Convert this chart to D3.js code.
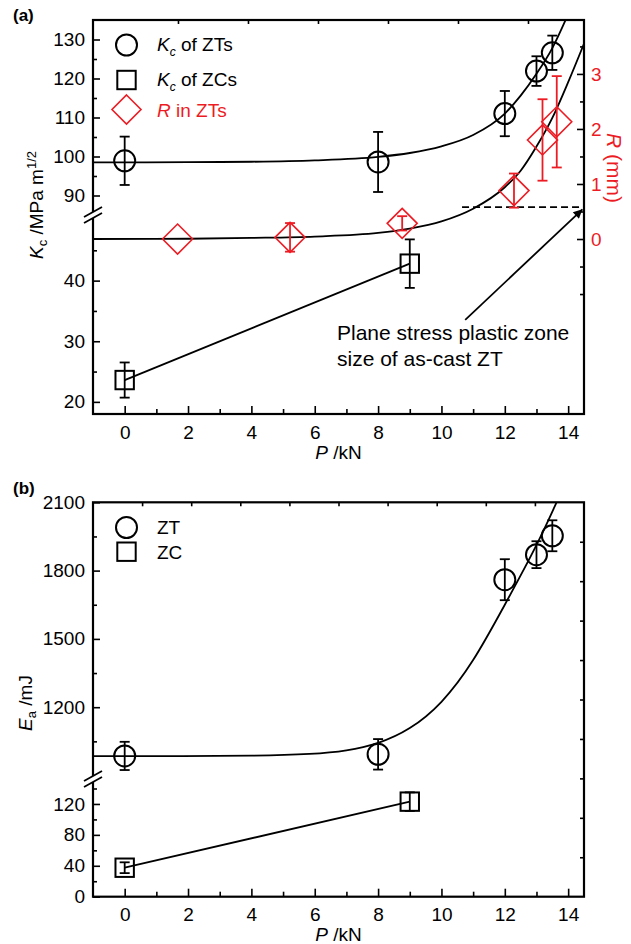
<!DOCTYPE html>
<html>
<head>
<meta charset="utf-8">
<script src="https://cdn.jsdelivr.net/npm/d3@7"></script>
<style>
    body { margin: 0; background: #fff; }
    svg { display: block; font-family: "Liberation Sans", Arial, sans-serif; }
</style>
</head>
<body>
<svg id="chart" width="631" height="944"></svg>
<script>
// red used by Origin for the R series
var RED = "#ed1c24";

// ---- panel (a) data ----
var xMajor = [0, 2, 4, 6, 8, 10, 12, 14];
var xMinor = [1, 3, 5, 7, 9, 11, 13];

var ztP = [0, 8, 12, 13, 13.5];
var ztKc = [98.9, 98.6, 111.0, 121.9, 126.6];
var ztKcErr = [6.2, 7.7, 5.8, 3.8, 4.4];

var zcP = [0, 9];
var zcKc = [23.6, 42.8];
var zcKcErr = [2.9, 4.0];

var rP = [1.67, 5.22, 8.76, 12.29, 13.19, 13.64];
var rMm = [0.0, 0.03, 0.285, 0.88, 1.8, 2.13];
var rErr = [0, 0.26, 0.13, 0.31, 0.74, 0.83];

// fitted curves
var kcFitP = [-1, 2, 4, 6, 8, 9, 10, 11, 12, 12.5, 13, 13.5, 14];
var kcFitV = [98.5, 98.55, 98.65, 99.0, 99.9, 100.9, 102.6, 105.5, 111.0, 115.6, 121.2, 127.8, 136.5];
var rFitP = [-1, 2, 4, 6, 8, 9, 10, 11, 12, 12.5, 13, 13.5, 14, 14.5];
var rFitV = [0.0, 0.005, 0.02, 0.045, 0.11, 0.19, 0.32, 0.55, 0.94, 1.24, 1.68, 2.2, 2.85, 3.55];

var kcUpperMajor = [90, 100, 110, 120, 130];
var kcUpperMinor = [95, 105, 115, 125];
var kcLowerMajor = [20, 30, 40];
var kcLowerMinor = [25, 35, 45];
var rMajor = [0, 1, 2, 3];
var rMinor = [-1, -0.5, 0.5, 1.5, 2.5, 3.5];

var plasticZone = 0.58;           // R of as-cast ZT (mm)
var plasticZoneFrom = 10.65;      // P where the dashed line starts

// ---- panel (b) data ----
var eaZtP = [0, 8, 12, 13, 13.5];
var eaZt = [986, 993, 1760, 1870, 1953];
var eaZtErr = [62, 67, 90, 59, 68];

var eaZcP = [0, 9];
var eaZc = [37.5, 123];
var eaZcErr = [7, 12];

var eaFitP = [-1, 2, 4, 6, 7, 8, 9, 10, 11, 12, 13, 13.7];
var eaFitV = [985, 985.5, 986, 994, 1008, 1038, 1100, 1212, 1395, 1650, 1905, 2120];

var eaUpperMajor = [1200, 1500, 1800, 2100];
var eaUpperMinor = [1050, 1350, 1650, 1950];
var eaLowerMajor = [0, 40, 80, 120];
var eaLowerMinor = [20, 60, 100, 140];

// ---- layout ----
var L = 93, R = 584;
var svg = d3.select("#chart");

var x = d3.scaleLinear().domain([-1, 14.5]).range([L, R]);

function zip(a, b) { return a.map(function (d, i) { return [d, b[i]]; }); }

function ticks(g, axisFn, scale, values, size, fmt) {
    var ax = axisFn(scale).tickValues(values).tickSize(size).tickPadding(8);
    ax.tickFormat(fmt ? fmt : "");
    g.call(ax);
    g.select(".domain").remove();
    g.attr("font-family", null).attr("font-size", 19);
    g.selectAll(".tick line").attr("stroke", "#000").attr("stroke-width", 1.6);
    g.selectAll(".tick text").attr("fill", "#000");
    return g;
}

function circleMarks(g, xs, ys, errs, yScale) {
    var d = xs.map(function (p, i) { return { p: p, v: ys[i], e: errs[i] }; });
    errorBars(g, d, yScale, "#000");
    g.selectAll(null).data(d).enter().append("circle")
        .attr("cx", function (d) { return x(d.p); })
        .attr("cy", function (d) { return yScale(d.v); })
        .attr("r", 10.5)
        .attr("fill", "none").attr("stroke", "#000").attr("stroke-width", 2);
}

function squareMarks(g, xs, ys, errs, yScale) {
    var d = xs.map(function (p, i) { return { p: p, v: ys[i], e: errs[i] }; });
    errorBars(g, d, yScale, "#000");
    g.selectAll(null).data(d).enter().append("rect")
        .attr("x", function (d) { return x(d.p) - 9.2; })
        .attr("y", function (d) { return yScale(d.v) - 9.2; })
        .attr("width", 18.4).attr("height", 18.4)
        .attr("fill", "none").attr("stroke", "#000").attr("stroke-width", 2);
}

function errorBars(g, d, yScale, color) {
    var eb = g.selectAll(null).data(d.filter(function (d) { return d.e > 0; })).enter().append("g")
        .attr("stroke", color).attr("stroke-width", 1.8).attr("fill", "none");
    eb.append("line")
        .attr("x1", function (d) { return x(d.p); }).attr("x2", function (d) { return x(d.p); })
        .attr("y1", function (d) { return yScale(d.v + d.e); })
        .attr("y2", function (d) { return yScale(d.v - d.e); });
    [1, -1].forEach(function (s) {
        eb.append("line")
            .attr("x1", function (d) { return x(d.p) - 5; }).attr("x2", function (d) { return x(d.p) + 5; })
            .attr("y1", function (d) { return yScale(d.v + s * d.e); })
            .attr("y2", function (d) { return yScale(d.v + s * d.e); });
    });
}

function diamondPath(cx, cy, h) {
    return "M" + cx + "," + (cy - h) + "L" + (cx + h) + "," + cy + "L" + cx + "," + (cy + h) + "L" + (cx - h) + "," + cy + "Z";
}

function breakMark(yc) {
    var g = svg.append("g");
    g.append("path")
        .attr("d", "M84," + (yc + 2) + "L102," + (yc - 8) + "L102," + (yc - 2) + "L84," + (yc + 8) + "Z")
        .attr("fill", "#fff");
    [0, 6].forEach(function (o) {
        g.append("line")
            .attr("x1", 84).attr("y1", yc + 2 + o)
            .attr("x2", 102).attr("y2", yc - 8 + o)
            .attr("stroke", "#000").attr("stroke-width", 1.8);
    });
}

var defs = svg.append("defs");

// ================= panel (a) =================
var aTop = 20, aBot = 414;
var yaU = d3.scaleLinear().domain([85, 135]).range([215, aTop]);
var yaL = d3.scaleLinear().domain([18, 50]).range([aBot, 220]);
var yR = d3.scaleLinear().domain([-3.18, 3.98]).range([aBot, aTop]);
var xTopA = d3.scaleLinear().domain([-1.214, 5.8]).range([L, R]);

defs.append("clipPath").attr("id", "clipA").append("rect")
    .attr("x", L).attr("y", aTop).attr("width", R - L).attr("height", aBot - aTop);
defs.append("clipPath").attr("id", "clipAU").append("rect")
    .attr("x", L).attr("y", aTop).attr("width", R - L).attr("height", 215 - aTop);

var line = d3.line().x(function (d) { return x(d[0]); }).curve(d3.curveMonotoneX);

// fits
svg.append("path").datum(zip(kcFitP, kcFitV))
    .attr("clip-path", "url(#clipAU)")
    .attr("d", line.y(function (d) { return yaU(d[1]); }))
    .attr("fill", "none").attr("stroke", "#000").attr("stroke-width", 1.8);
svg.append("path").datum(zip(rFitP, rFitV))
    .attr("clip-path", "url(#clipA)")
    .attr("d", line.y(function (d) { return yR(d[1]); }))
    .attr("fill", "none").attr("stroke", "#000").attr("stroke-width", 1.8);
svg.append("path").datum(zip(zcP, zcKc))
    .attr("d", d3.line().x(function (d) { return x(d[0]); }).y(function (d) { return yaL(d[1]); }))
    .attr("fill", "none").attr("stroke", "#000").attr("stroke-width", 1.8);

// plastic zone dashed line + arrow
svg.append("line")
    .attr("x1", x(plasticZoneFrom)).attr("x2", R)
    .attr("y1", yR(plasticZone)).attr("y2", yR(plasticZone))
    .attr("stroke", "#000").attr("stroke-width", 1.6).attr("stroke-dasharray", "7,4");

defs.append("marker").attr("id", "arrow")
    .attr("viewBox", "0 0 10 10").attr("refX", 10).attr("refY", 5)
    .attr("markerWidth", 14).attr("markerHeight", 9).attr("markerUnits", "userSpaceOnUse")
    .attr("orient", "auto")
    .append("path").attr("d", "M0,0L10,5L0,10Z").attr("fill", "#000");

svg.append("line")
    .attr("x1", x(10.75)).attr("y1", yR(-1.47))
    .attr("x2", x(14.45)).attr("y2", yR(0.54))
    .attr("stroke", "#000").attr("stroke-width", 1.8)
    .attr("marker-end", "url(#arrow)");

var note = svg.append("text").attr("font-size", 21).attr("fill", "#000");
note.append("tspan").attr("x", 337).attr("y", 340).text("Plane stress plastic zone");
note.append("tspan").attr("x", 337).attr("y", 366).text("size of as-cast ZT");

// markers
var ma = svg.append("g");
circleMarks(ma, ztP, ztKc, ztKcErr, yaU);
squareMarks(ma, zcP, zcKc, zcKcErr, yaL);
var rd = rP.map(function (p, i) { return { p: p, v: rMm[i], e: rErr[i] }; });
errorBars(ma, rd, yR, RED);
ma.selectAll(null).data(rd).enter().append("path")
    .attr("d", function (d) { return diamondPath(x(d.p), yR(d.v), 15); })
    .attr("fill", "none").attr("stroke", RED).attr("stroke-width", 1.6);

// frame and ticks
svg.append("rect").attr("x", L).attr("y", aTop).attr("width", R - L).attr("height", aBot - aTop)
    .attr("fill", "none").attr("stroke", "#000").attr("stroke-width", 2.2);

var gb = svg.append("g").attr("transform", "translate(0," + aBot + ")");
ticks(gb, d3.axisBottom, x, xMajor, -8, d3.format("d"));
gb.selectAll(".tick text").attr("y", 25).attr("dy", null);
ticks(svg.append("g").attr("transform", "translate(0," + aBot + ")"), d3.axisBottom, x, xMinor, -5);
ticks(svg.append("g").attr("transform", "translate(0," + aTop + ")"), d3.axisTop, xTopA, [0, 1, 2, 3, 4, 5], -4);

ticks(svg.append("g").attr("transform", "translate(" + L + ",0)"), d3.axisLeft, yaU, kcUpperMajor, -7, d3.format("d"));
ticks(svg.append("g").attr("transform", "translate(" + L + ",0)"), d3.axisLeft, yaU, kcUpperMinor, -4);
ticks(svg.append("g").attr("transform", "translate(" + L + ",0)"), d3.axisLeft, yaL, kcLowerMajor, -7, d3.format("d"));
ticks(svg.append("g").attr("transform", "translate(" + L + ",0)"), d3.axisLeft, yaL, kcLowerMinor, -4);

var gr = ticks(svg.append("g").attr("transform", "translate(" + R + ",0)"), d3.axisRight, yR, rMajor, -7, d3.format("d"));
gr.selectAll(".tick text").attr("fill", RED).attr("x", 7);
ticks(svg.append("g").attr("transform", "translate(" + R + ",0)"), d3.axisRight, yR, rMinor, -4);

breakMark(215);

// axis titles
svg.append("text").attr("x", 13).attr("y", 21).attr("font-size", 17).attr("font-weight", "bold").text("(a)");

var ta = svg.append("text").attr("font-size", 19)
    .attr("transform", "translate(43,205) rotate(-90)").attr("text-anchor", "middle");
ta.append("tspan").attr("font-style", "italic").text("K");
ta.append("tspan").attr("font-size", 13).attr("dy", 4).text("c");
ta.append("tspan").attr("dy", -4).text(" /MPa m");
ta.append("tspan").attr("font-size", 13).attr("dy", -7).text("1/2");

var tx = svg.append("text").attr("font-size", 19).attr("x", x(6.75)).attr("y", 459).attr("text-anchor", "middle");
tx.append("tspan").attr("font-style", "italic").text("P");
tx.append("tspan").text(" /kN");

var tr = svg.append("text").attr("font-size", 21).attr("fill", RED)
    .attr("transform", "translate(607,168) rotate(90)").attr("text-anchor", "middle");
tr.append("tspan").attr("font-style", "italic").text("R");
tr.append("tspan").text(" (mm)");

// legend (a)
var lg = svg.append("g");
lg.append("circle").attr("cx", 126.5).attr("cy", 45).attr("r", 10.5)
    .attr("fill", "none").attr("stroke", "#000").attr("stroke-width", 2);
lg.append("rect").attr("x", 117.3).attr("y", 70.8).attr("width", 18.4).attr("height", 18.4)
    .attr("fill", "none").attr("stroke", "#000").attr("stroke-width", 2);
lg.append("path").attr("d", diamondPath(126.5, 109.5, 14.5))
    .attr("fill", "none").attr("stroke", RED).attr("stroke-width", 1.6);
[["ZTs", 51], ["ZCs", 86]].forEach(function (t) {
    var e = lg.append("text").attr("x", 157).attr("y", t[1]).attr("font-size", 19);
    e.append("tspan").attr("font-style", "italic").text("K");
    e.append("tspan").attr("font-style", "italic").attr("font-size", 12).attr("dy", 5).text("c");
    e.append("tspan").attr("dy", -5).text(" of " + t[0]);
});
var lr = lg.append("text").attr("x", 157).attr("y", 117).attr("font-size", 19).attr("fill", RED);
lr.append("tspan").attr("font-style", "italic").text("R");
lr.append("tspan").text(" in ZTs");

// ================= panel (b) =================
var bTop = 502.3, bBot = 896.7;
var ybU = d3.scaleLinear().domain([900, 2100]).range([775.5, bTop]);
var ybL = d3.scaleLinear().domain([0, 140]).range([bBot, 788.5]);
var xTopB = d3.scaleLinear().domain([0, 10]).range([L, R]);
var yRightB = d3.scaleLinear().domain([0, 10]).range([bBot, bTop]);

defs.append("clipPath").attr("id", "clipBU").append("rect")
    .attr("x", L).attr("y", bTop).attr("width", R - L).attr("height", 775.5 - bTop);

svg.append("path").datum(zip(eaFitP, eaFitV))
    .attr("clip-path", "url(#clipBU)")
    .attr("d", d3.line().x(function (d) { return x(d[0]); }).y(function (d) { return ybU(d[1]); }).curve(d3.curveBasis))
    .attr("fill", "none").attr("stroke", "#000").attr("stroke-width", 1.8);
svg.append("path").datum(zip(eaZcP, eaZc))
    .attr("d", d3.line().x(function (d) { return x(d[0]); }).y(function (d) { return ybL(d[1]); }))
    .attr("fill", "none").attr("stroke", "#000").attr("stroke-width", 1.8);

var mb = svg.append("g");
circleMarks(mb, eaZtP, eaZt, eaZtErr, ybU);
squareMarks(mb, eaZcP, eaZc, eaZcErr, ybL);

svg.append("rect").attr("x", L).attr("y", bTop).attr("width", R - L).attr("height", bBot - bTop)
    .attr("fill", "none").attr("stroke", "#000").attr("stroke-width", 2.2);

var gb2 = svg.append("g").attr("transform", "translate(0," + bBot + ")");
ticks(gb2, d3.axisBottom, x, xMajor, -8, d3.format("d"));
gb2.selectAll(".tick text").attr("y", 24).attr("dy", null);
ticks(svg.append("g").attr("transform", "translate(0," + bBot + ")"), d3.axisBottom, x, xMinor, -5);
ticks(svg.append("g").attr("transform", "translate(0," + bTop + ")"), d3.axisTop, xTopB, d3.range(1, 10), -4);
ticks(svg.append("g").attr("transform", "translate(" + R + ",0)"), d3.axisRight, yRightB, d3.range(1, 10), -4);

ticks(svg.append("g").attr("transform", "translate(" + L + ",0)"), d3.axisLeft, ybU, eaUpperMajor, -7, d3.format("d"));
ticks(svg.append("g").attr("transform", "translate(" + L + ",0)"), d3.axisLeft, ybU, eaUpperMinor, -4);
ticks(svg.append("g").attr("transform", "translate(" + L + ",0)"), d3.axisLeft, ybL, eaLowerMajor, -7, d3.format("d"));
ticks(svg.append("g").attr("transform", "translate(" + L + ",0)"), d3.axisLeft, ybL, eaLowerMinor, -4);

breakMark(779);

svg.append("text").attr("x", 13).attr("y", 494).attr("font-size", 17).attr("font-weight", "bold").text("(b)");

var tb = svg.append("text").attr("font-size", 19)
    .attr("transform", "translate(32,703) rotate(-90)").attr("text-anchor", "middle");
tb.append("tspan").attr("font-style", "italic").text("E");
tb.append("tspan").attr("font-size", 13).attr("dy", 4).text("a");
tb.append("tspan").attr("dy", -4).text(" /mJ");

var tx2 = svg.append("text").attr("font-size", 19).attr("x", x(6.75)).attr("y", 941).attr("text-anchor", "middle");
tx2.append("tspan").attr("font-style", "italic").text("P");
tx2.append("tspan").text(" /kN");

// legend (b)
var lb = svg.append("g");
lb.append("circle").attr("cx", 126.5).attr("cy", 527.5).attr("r", 10.5)
    .attr("fill", "none").attr("stroke", "#000").attr("stroke-width", 2);
lb.append("rect").attr("x", 117.3).attr("y", 542.5).attr("width", 18.4).attr("height", 18.4)
    .attr("fill", "none").attr("stroke", "#000").attr("stroke-width", 2);
lb.append("text").attr("x", 157).attr("y", 534).attr("font-size", 19).text("ZT");
lb.append("text").attr("x", 157).attr("y", 559).attr("font-size", 19).text("ZC");
</script>
</body>
</html>
